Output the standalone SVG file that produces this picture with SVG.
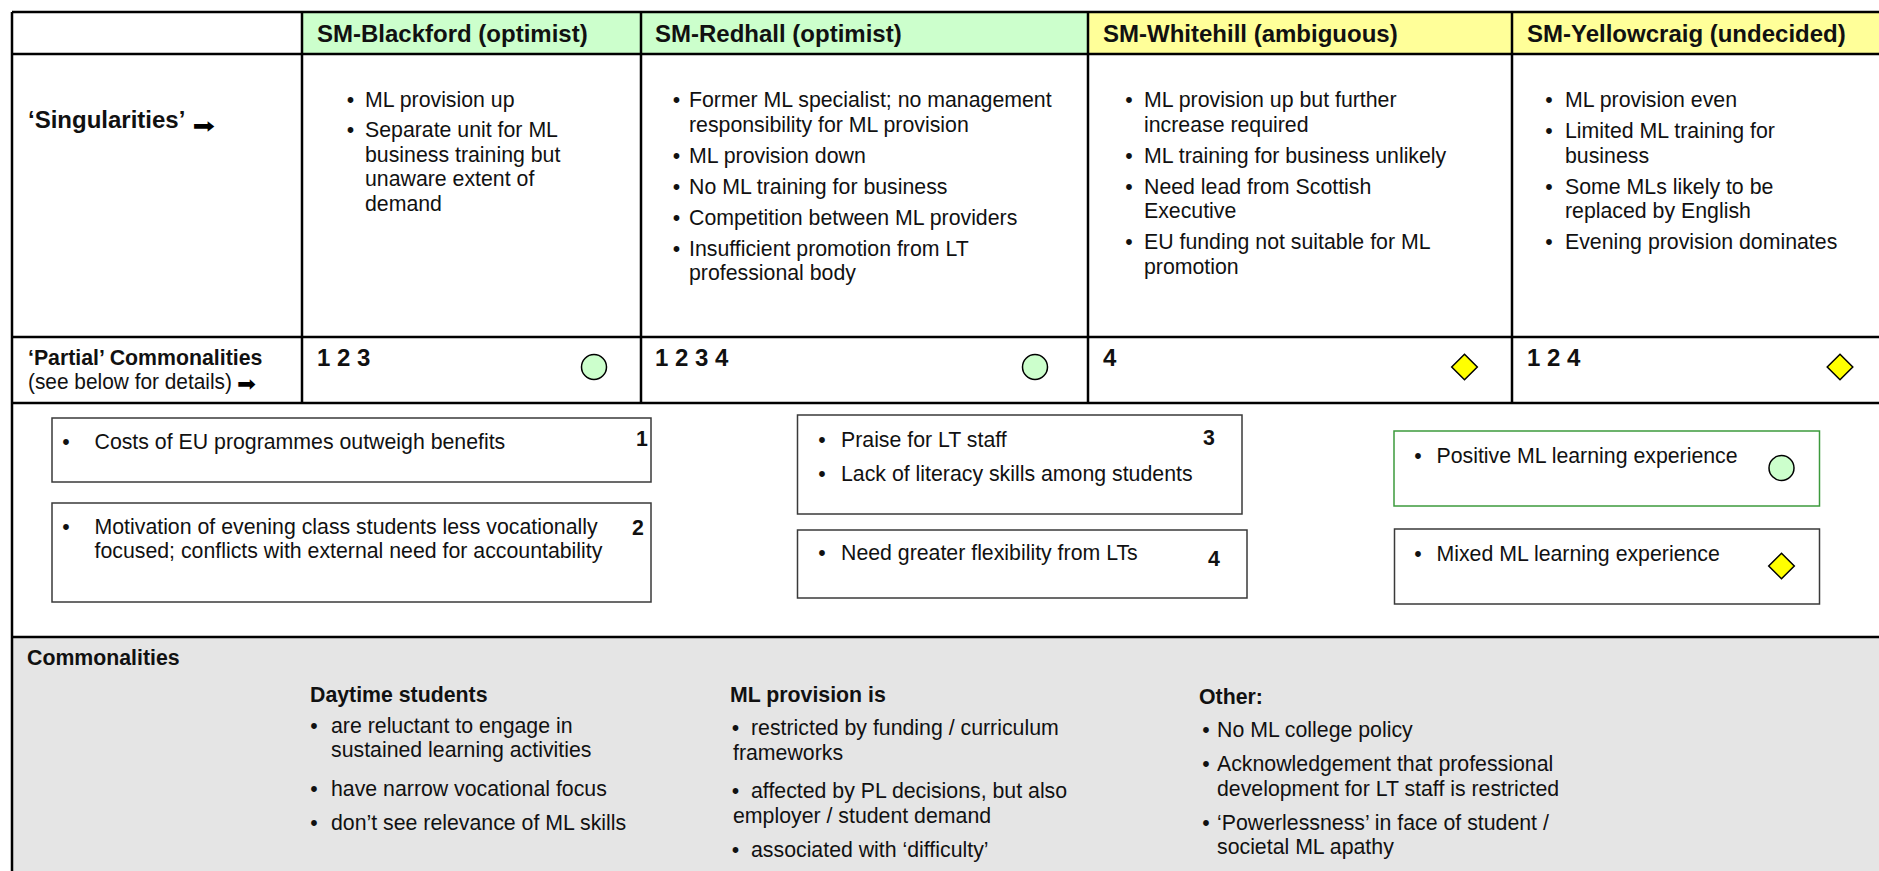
<svg xmlns="http://www.w3.org/2000/svg" width="1879" height="871" viewBox="0 0 1879 871">
<style>
text{font-family:"Liberation Sans",Arial,"DejaVu Sans",sans-serif;fill:#111;font-size:21.3px}
.b{font-weight:bold}
.h{font-weight:bold;font-size:24px}
.bul{text-anchor:middle}
.grid{stroke:#000;stroke-width:2.5;fill:none}
.box{fill:#fff;stroke:#3a3a3a;stroke-width:1.5}
.gbox{fill:#fff;stroke:#3c9a3c;stroke-width:1.5}
.circ{fill:#ccffcc;stroke:#000;stroke-width:1.5}
.dia{fill:#ffff00;stroke:#000;stroke-width:1.5}
.arr{font-family:"DejaVu Sans",sans-serif;fill:#000}
</style>
<defs>
<ellipse id="okc" cx="0" cy="0" rx="12.5" ry="12.5" class="circ"/>
<polygon id="mixd" points="0,-12.8 12.8,0 0,12.8 -12.8,0" class="dia"/>
</defs>
<rect x="0" y="0" width="1879" height="871" fill="#fff"/>

<g id="backgrounds">
<rect x="302" y="12" width="786" height="42" fill="#ccffcc"/>
<rect x="1088" y="12" width="800" height="42" fill="#ffff99"/>
<rect x="12" y="637" width="1880" height="240" fill="#e5e5e5"/>
</g>

<g id="table-grid">
<path class="grid" d="M12,12 H1890 M12,54 H1890 M12,337 H1890 M12,403 H1890 M12,637 H1890 M12,12 V880 M302,12 V403 M641,12 V403 M1088,12 V403 M1512,12 V403"/>
</g>

<g id="header-blackford"><text class="h" x="317" y="41.5">SM-Blackford (optimist)</text></g>
<g id="header-redhall"><text class="h" x="655" y="41.5">SM-Redhall (optimist)</text></g>
<g id="header-whitehill"><text class="h" x="1103" y="41.5">SM-Whitehill (ambiguous)</text></g>
<g id="header-yellowcraig"><text class="h" x="1527" y="41.5">SM-Yellowcraig (undecided)</text></g>

<g id="label-singularities">
<text class="h" x="28" y="128">‘Singularities’</text>
<text class="arr" x="192.5" y="133" font-size="50" textLength="22.5" lengthAdjust="spacingAndGlyphs">➡</text>
</g>

<g id="sing-blackford">
<text class="bul" x="350.5" y="107">•</text><text x="365" y="107">ML provision up</text>
<text class="bul" x="350.5" y="137">•</text><text x="365" y="137">Separate unit for ML</text>
<text x="365" y="161.5">business training but</text>
<text x="365" y="186">unaware extent of</text>
<text x="365" y="210.5">demand</text>
</g>

<g id="sing-redhall">
<text class="bul" x="676.5" y="107">•</text><text x="689" y="107">Former ML specialist; no management</text>
<text x="689" y="131.5">responsibility for ML provision</text>
<text class="bul" x="676.5" y="162.5">•</text><text x="689" y="162.5">ML provision down</text>
<text class="bul" x="676.5" y="193.5">•</text><text x="689" y="193.5">No ML training for business</text>
<text class="bul" x="676.5" y="224.5">•</text><text x="689" y="224.5">Competition between ML providers</text>
<text class="bul" x="676.5" y="255.5">•</text><text x="689" y="255.5">Insufficient promotion from LT</text>
<text x="689" y="280">professional body</text>
</g>

<g id="sing-whitehill">
<text class="bul" x="1129" y="107">•</text><text x="1144" y="107">ML provision up but further</text>
<text x="1144" y="131.5">increase required</text>
<text class="bul" x="1129" y="162.5">•</text><text x="1144" y="162.5">ML training for business unlikely</text>
<text class="bul" x="1129" y="193.5">•</text><text x="1144" y="193.5">Need lead from Scottish</text>
<text x="1144" y="218">Executive</text>
<text class="bul" x="1129" y="249">•</text><text x="1144" y="249">EU funding not suitable for ML</text>
<text x="1144" y="273.5">promotion</text>
</g>

<g id="sing-yellowcraig">
<text class="bul" x="1549" y="107">•</text><text x="1565" y="107">ML provision even</text>
<text class="bul" x="1549" y="138">•</text><text x="1565" y="138">Limited ML training for</text>
<text x="1565" y="162.5">business</text>
<text class="bul" x="1549" y="193.5">•</text><text x="1565" y="193.5">Some MLs likely to be</text>
<text x="1565" y="218">replaced by English</text>
<text class="bul" x="1549" y="249">•</text><text x="1565" y="249">Evening provision dominates</text>
</g>

<g id="label-partial">
<text class="b" x="28" y="365">‘Partial’ Commonalities</text>
<text x="28" y="389" textLength="204" lengthAdjust="spacingAndGlyphs">(see below for details)</text>
<text class="arr" x="237" y="390.5" font-size="36" textLength="19" lengthAdjust="spacingAndGlyphs">➡</text>
</g>

<g id="partial-blackford"><text class="h" x="317" y="366">1 2 3</text><use href="#okc" x="594" y="367"/></g>
<g id="partial-redhall"><text class="h" x="655" y="366">1 2 3 4</text><use href="#okc" x="1035" y="367"/></g>
<g id="partial-whitehill"><text class="h" x="1103" y="366">4</text><use href="#mixd" x="1464.5" y="367"/></g>
<g id="partial-yellowcraig"><text class="h" x="1527" y="366">1 2 4</text><use href="#mixd" x="1840" y="367"/></g>

<g id="box-1">
<rect class="box" x="52" y="418" width="599" height="64"/>
<text class="bul" x="66" y="449">•</text><text x="94.5" y="449">Costs of EU programmes outweigh benefits</text>
<text class="b" x="636" y="446">1</text>
</g>

<g id="box-2">
<rect class="box" x="52" y="503" width="599" height="99"/>
<text class="bul" x="66" y="533.5">•</text><text x="94.5" y="533.5">Motivation of evening class students less vocationally</text>
<text x="94.5" y="557.5">focused; conflicts with external need for accountability</text>
<text class="b" x="632" y="535">2</text>
</g>

<g id="box-3">
<rect class="box" x="797.5" y="415" width="444.5" height="99"/>
<text class="bul" x="822" y="447">•</text><text x="841" y="447">Praise for LT staff</text>
<text class="bul" x="822" y="480.5">•</text><text x="841" y="480.5">Lack of literacy skills among students</text>
<text class="b" x="1203" y="445">3</text>
</g>

<g id="box-4">
<rect class="box" x="797.5" y="530" width="449.5" height="68"/>
<text class="bul" x="822" y="560">•</text><text x="841" y="560">Need greater flexibility from LTs</text>
<text class="b" x="1208" y="566">4</text>
</g>

<g id="box-positive">
<rect class="gbox" x="1394" y="431" width="425.5" height="75"/>
<text class="bul" x="1418" y="463">•</text><text x="1436.5" y="463">Positive ML learning experience</text>
<use href="#okc" x="1781.5" y="468"/>
</g>

<g id="box-mixed">
<rect class="box" x="1394.5" y="529" width="425" height="75"/>
<text class="bul" x="1418" y="561">•</text><text x="1436.5" y="561">Mixed ML learning experience</text>
<use href="#mixd" x="1781.5" y="566"/>
</g>

<g id="commonalities-title"><text class="b" x="27" y="665">Commonalities</text></g>

<g id="common-daytime">
<text class="b" x="310" y="702">Daytime students</text>
<text class="bul" x="314" y="733">•</text><text x="331" y="733">are reluctant to engage in</text>
<text x="331" y="757">sustained learning activities</text>
<text class="bul" x="314" y="796">•</text><text x="331" y="796">have narrow vocational focus</text>
<text class="bul" x="314" y="830">•</text><text x="331" y="830">don’t see relevance of ML skills</text>
</g>

<g id="common-provision">
<text class="b" x="730" y="702">ML provision is</text>
<text class="bul" x="735.5" y="735">•</text><text x="751" y="735">restricted by funding / curriculum</text>
<text x="733" y="759.5">frameworks</text>
<text class="bul" x="735.5" y="798">•</text><text x="751" y="798">affected by PL decisions, but also</text>
<text x="733" y="822.5">employer / student demand</text>
<text class="bul" x="735.5" y="856.5">•</text><text x="751" y="856.5">associated with ‘difficulty’</text>
</g>

<g id="common-other">
<text class="b" x="1199" y="704">Other:</text>
<text class="bul" x="1206" y="737">•</text><text x="1217" y="737">No ML college policy</text>
<text class="bul" x="1206" y="771">•</text><text x="1217" y="771">Acknowledgement that professional</text>
<text x="1217" y="795.5">development for LT staff is restricted</text>
<text class="bul" x="1206" y="829.5">•</text><text x="1217" y="829.5">‘Powerlessness’ in face of student /</text>
<text x="1217" y="854">societal ML apathy</text>
</g>
</svg>
